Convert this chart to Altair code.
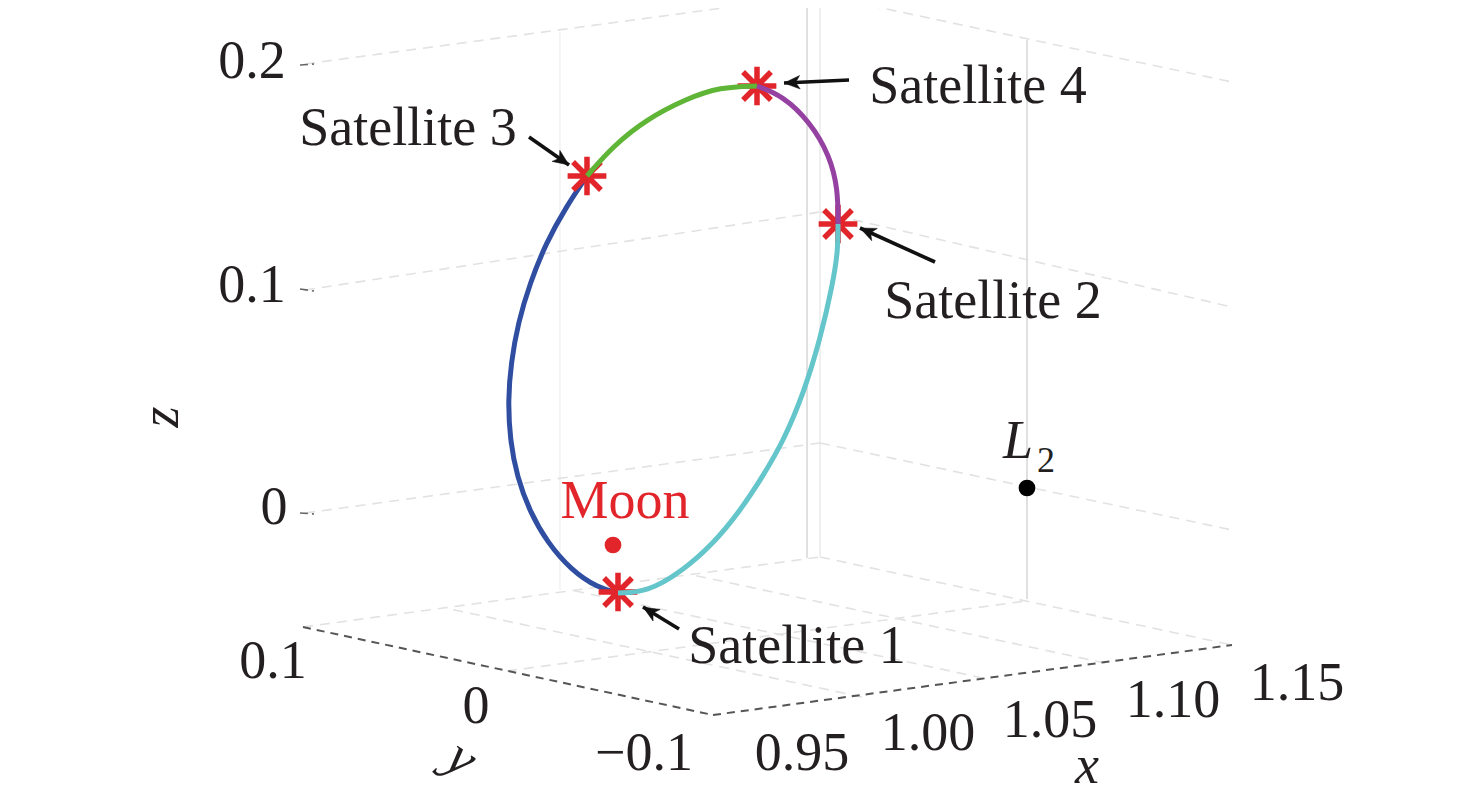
import math
import altair as alt
import pandas as pd

# ---- values (picture pixel coordinates) ----
blue_x = [587, 566, 546, 530, 518, 511, 508, 510, 517, 530, 547, 571, 598, 618]
blue_y = [176, 207, 243, 283, 323, 363, 400, 440, 477, 512, 542, 570, 588, 593]
cyan_x = [618, 647, 681, 713, 740, 763, 784, 804, 820, 833, 838, 838]
cyan_y = [593, 592, 572, 544, 511, 476, 440, 392, 340, 283, 250, 224]
green_x = [587, 613, 647, 686, 720, 757]
green_y = [176, 146, 119, 99, 87, 86]
purple_x = [757, 783, 810, 830, 838, 838]
purple_y = [86, 96, 122, 156, 190, 224]

sat_x = [618, 838, 587, 757]
sat_y = [592, 224, 176, 86]

tail_x = [679, 935, 529, 849]
tail_y = [629, 262, 137, 80]
tip_x = [643, 860, 569, 784]
tip_y = [607, 228, 165, 83]

moon_x, moon_y = [613], [545]
l2_x, l2_y = [1027], [488]

wall_x1 = [305, 305, 305, 820, 820, 820]
wall_y1 = [64, 290, 513, -5, 212, 443]
wall_x2 = [820, 820, 820, 1232, 1232, 1232]
wall_y2 = [-5, 212, 443, 82, 307, 530]

floor_x1 = [303, 820, 862, 983, 1105, 507]
floor_y1 = [627, 557, 697, 678, 663, 671]
floor_x2 = [820, 1232, 450, 571, 693, 1026]
floor_y2 = [557, 645, 609, 590, 575, 601]

vert_x = [560, 807, 820, 1027]
vert_top = [32, 0, 0, 40]
vert_bottom = [590, 558, 556, 599]
vert_op = [0.35, 1.0, 0.5, 1.0]

axis_x1 = [303, 713]
axis_y1 = [627, 715]
axis_x2 = [713, 1232]
axis_y2 = [715, 645]

tick_x1 = [300, 300, 300]
tick_y1 = [65, 289, 513]
tick_x2 = [314, 314, 314]
tick_y2 = [64, 291, 514]

dark_labels = ["Satellite 1", "Satellite 2", "Satellite 3", "Satellite 4",
               "0.2", "0.1", "0",
               "0.1", "0", "\u22120.1",
               "0.95", "1.00", "1.05", "1.10", "1.15"]
dark_x = [797, 993, 408, 978, 252, 252, 274, 273, 476, 644, 802, 928, 1050, 1173, 1297]
dark_y = [663, 318, 145, 103, 78, 302, 524, 678, 723, 770, 770, 750, 737, 717, 700]

RED = "#e1252b"
INK = "#231f20"
FONT = "Liberation Serif"
FS = 54
STAR = "M0,-1L0,1M-1,0L1,0M-0.72,-0.72L0.72,0.72M-0.72,0.72L0.72,-0.72"
HEAD = "M0,0L-0.55,1.3L0,0.95L0.55,1.3Z"

X = alt.X("x:Q", scale=alt.Scale(domain=[8, 1468]), axis=None)
Y = alt.Y("y:Q", scale=alt.Scale(domain=[796, 8]), axis=None)


def segments(x1, y1, x2, y2, color, width, dash, opacity=1.0):
    df = pd.DataFrame({"x": x1, "y": y1, "x2": x2, "y2": y2})
    kw = {"strokeDash": dash} if dash else {}
    return alt.Chart(df).mark_rule(color=color, strokeWidth=width, opacity=opacity, **kw).encode(
        x=X, y=Y, x2="x2:Q", y2="y2:Q")


def curve(xs, ys, color):
    df = pd.DataFrame({"x": xs, "y": ys, "o": range(len(xs))})
    return alt.Chart(df).mark_line(color=color, strokeWidth=5, interpolate="basis").encode(
        x=X, y=Y, order="o:Q")


def label(text, x, y, color=INK, size=FS, **kw):
    df = pd.DataFrame({"x": x, "y": y, "t": text})
    return alt.Chart(df).mark_text(font=FONT, fontSize=size, color=color, baseline="alphabetic", **kw).encode(
        x=X, y=Y, text="t:N")


def dots(x, y, color):
    df = pd.DataFrame({"x": x, "y": y})
    return alt.Chart(df).mark_circle(color=color, size=280, opacity=1).encode(x=X, y=Y)


layers = []
layers.append(segments(wall_x1, wall_y1, wall_x2, wall_y2, "#e2e2e2", 1.6, [10, 7]))
layers.append(segments(floor_x1, floor_y1, floor_x2, floor_y2, "#e2e2e2", 1.6, [10, 7]))
for vx, vt, vb, vo in zip(vert_x, vert_top, vert_bottom, vert_op):
    layers.append(segments([vx], [vt], [vx], [vb], "#dddddd", 1.8, None, vo))
layers.append(segments(axis_x1, axis_y1, axis_x2, axis_y2, "#555555", 2, [8, 6]))
layers.append(segments(tick_x1, tick_y1, tick_x2, tick_y2, "#666666", 1.6, [8, 4]))

layers.append(curve(blue_x, blue_y, "#2f4ea1"))
layers.append(alt.Chart(pd.DataFrame({"x": sat_x, "y": sat_y})).mark_point(
    shape=STAR, size=1500, stroke=RED, strokeWidth=5.5, filled=False, opacity=1).encode(x=X, y=Y))
layers.append(curve(green_x, green_y, "#5fb535"))
layers.append(curve(purple_x, purple_y, "#9541a1"))
layers.append(curve(cyan_x, cyan_y, "#64c5ca"))

layers.append(segments(tail_x, tail_y, tip_x, tip_y, "#111111", 3.6, None))
angles = [math.degrees(math.atan2(tx - hx, hy - ty))
          for tx, ty, hx, hy in zip(tip_x, tip_y, tail_x, tail_y)]
layers.append(alt.Chart(pd.DataFrame({"x": tip_x, "y": tip_y, "a": [(a + 360) % 360 for a in angles]})).mark_point(
    shape=HEAD, size=600, fill="#111111", stroke="#111111", strokeWidth=0.5, filled=True, opacity=1).encode(
    x=X, y=Y, angle=alt.Angle("a:Q", scale=None)))

layers.append(dots(moon_x, moon_y, RED))
layers.append(dots(l2_x, l2_y, "#000000"))

layers.append(label(dark_labels, dark_x, dark_y))
layers.append(label(["Moon"], [625], [518], color=RED))
layers.append(label(["L"], [1018], [458], fontStyle="italic"))
layers.append(label(["2"], [1046], [472], size=36))
layers.append(label(["x"], [1087], [783], fontStyle="italic"))
layers.append(label(["y"], [452], [772], fontStyle="italic", angle=35))
layers.append(label(["z"], [178], [417], fontStyle="italic", angle=270))

chart = alt.layer(*layers).properties(
    width=1460, height=788, padding=0, autosize=alt.AutoSizeParams(type="none"), background="white"
).configure_view(stroke=None)

chart.save("out.html", embed_options={"renderer": "svg", "actions": False})
